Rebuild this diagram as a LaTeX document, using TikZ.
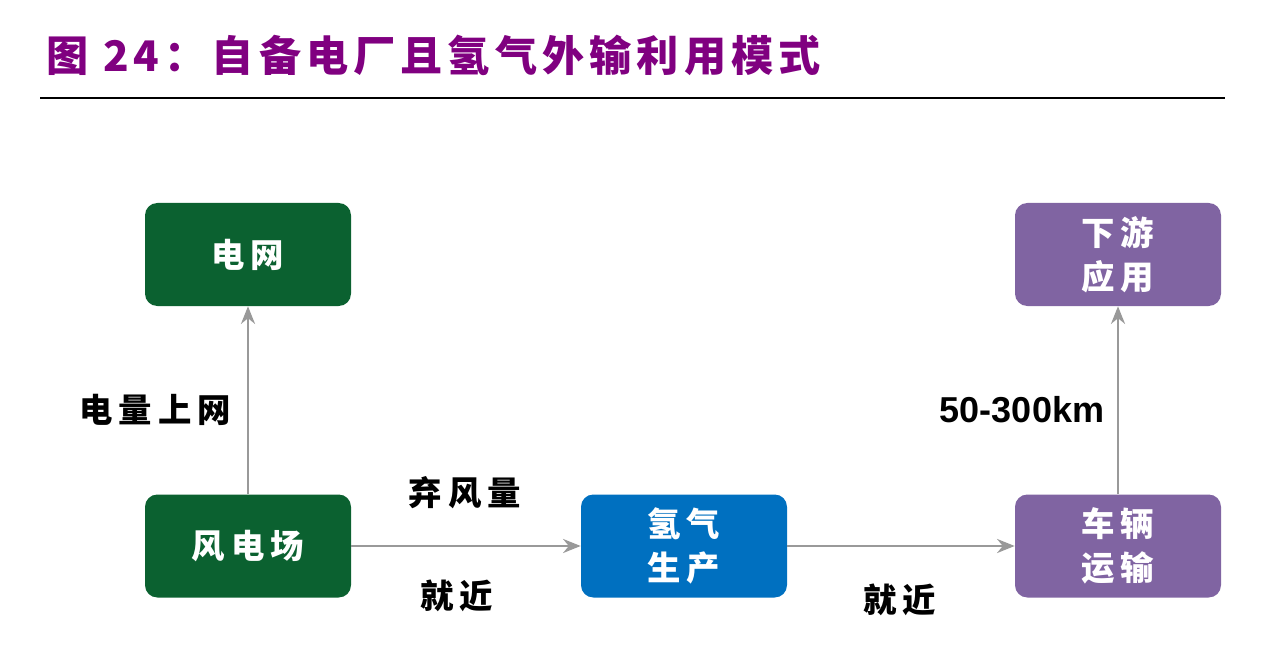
\documentclass[tikz,border=0pt]{standalone}
\usepackage{fontspec}
\setmainfont{Liberation Sans}
\newfontfamily\cjk{Noto Sans CJK SC}[LetterSpace=18]
\newfontfamily\cjkt{Noto Sans CJK SC}[LetterSpace=12]
\usetikzlibrary{arrows.meta}
\definecolor{dgreen}{RGB}{11,97,48}
\definecolor{hblue}{RGB}{0,112,192}
\definecolor{hpurp}{RGB}{128,100,162}
\definecolor{ttl}{RGB}{128,0,128}
\tikzset{
 box/.style={rounded corners=7pt,minimum width=4.12cm,minimum height=2.06cm,text=white,align=center,font=\cjk\bfseries\fontsize{19}{25}\selectfont},
 conn/.style={draw=gray!80,line width=1.2pt,-{Stealth[length=10pt,width=8pt]}},
 lbl/.style={font=\cjk\bfseries\fontsize{19}{22}\selectfont}
}
\begin{document}
\begin{tikzpicture}
\useasboundingbox (0,0) rectangle (25.48,-13.28);
\node[anchor=west,text=ttl,font=\cjkt\bfseries\fontsize{24}{28}\selectfont] (title) at (0.8,-1.1) {图 24：自备电厂且氢气外输利用模式};
\draw[line width=1pt] (0.8,-1.96) -- (24.5,-1.96);
\node[box,fill=dgreen] (grid) at (4.96,-5.09) {电网};
\node[box,fill=dgreen] (wind) at (4.96,-10.92) {风电场};
\node[box,fill=hblue] (h2) at (13.68,-10.92) {氢气\\生产};
\node[box,fill=hpurp] (car) at (22.36,-10.92) {车辆\\运输};
\node[box,fill=hpurp] (down) at (22.36,-5.09) {下游\\应用};
\draw[conn] (wind) -- (grid);
\draw[conn] (wind) -- (h2);
\draw[conn] (h2) -- (car);
\draw[conn] (car) -- (down);
\node[lbl] (l1) at (3.1,-8.2) {电量上网};
\node[lbl] (l2) at (9.3,-9.86) {弃风量};
\node[lbl] (l3) at (9.14,-11.92) {就近};
\node[lbl] (l4) at (18.0,-12.0) {就近};
\node[font=\bfseries\fontsize{20.5}{24}\selectfont] (l5) at (20.44,-8.2) {50-300km};
\end{tikzpicture}
\end{document}
